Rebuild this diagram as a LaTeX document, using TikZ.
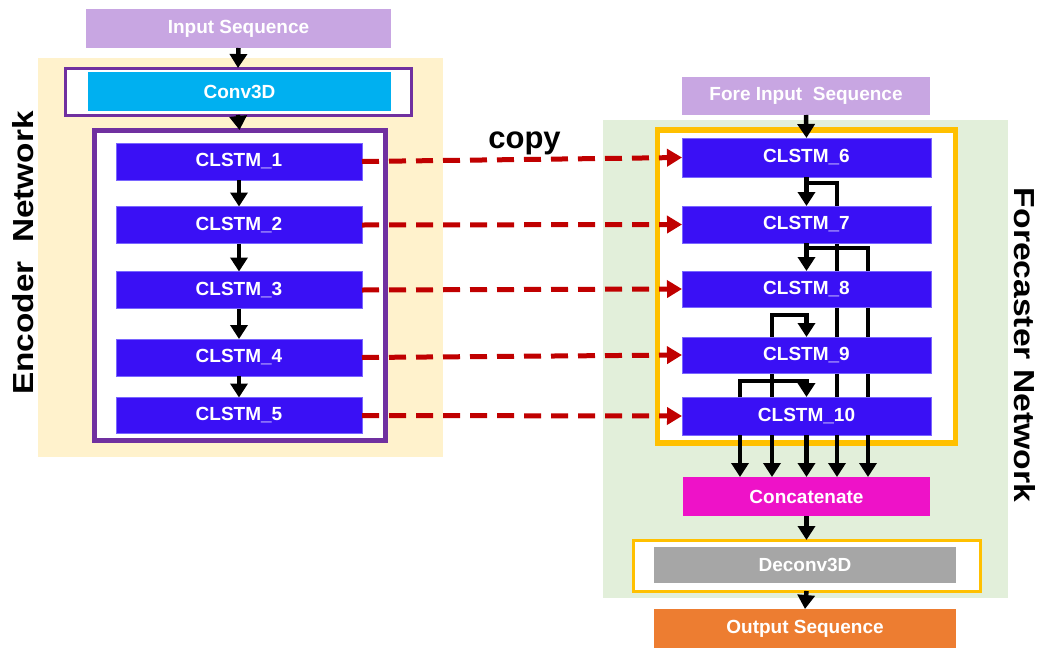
\documentclass[tikz,border=0pt]{standalone}
\usepackage{fontspec}
\setmainfont{Liberation Sans}
\usetikzlibrary{arrows.meta,calc}

\definecolor{encbg}{HTML}{FFF2CC}
\definecolor{forebg}{HTML}{E2EFDA}
\definecolor{lav}{HTML}{C8A6E2}
\definecolor{cyanbox}{HTML}{00B0F0}
\definecolor{cellblue}{HTML}{3A10F5}
\definecolor{celledge}{HTML}{7A66FF}
\definecolor{purp}{HTML}{7030A0}
\definecolor{gold}{HTML}{FFC000}
\definecolor{magbox}{HTML}{EE12C8}
\definecolor{graybox}{HTML}{A6A6A6}
\definecolor{orangebox}{HTML}{ED7D31}
\definecolor{copyred}{HTML}{C00000}

\pgfdeclarelayer{bg}
\pgfdeclarelayer{mid}
\pgfsetlayers{bg,mid,main}

\tikzset{
  blk/.style={inner sep=0pt, outer sep=0pt, text=white,
    font=\fontsize{19}{19}\selectfont\bfseries},
  cell/.style={blk, fill=cellblue, draw=celledge, line width=0.8pt},
  frame/.style={inner sep=0pt, outer sep=0pt, fill=white},
  wire/.style={line width=4.5pt, draw=black},
  flow/.style={wire, -{Triangle[width=17pt,length=14pt]}},
  copyarrow/.style={line width=5pt, draw=copyred, dash pattern=on 17pt off 10pt,
    -{Triangle[width=17pt,length=15pt]}},
  side/.style={inner sep=0pt, font=\fontsize{29}{29}\selectfont\bfseries},
}

\begin{document}
\begin{tikzpicture}[x=1pt,y=-1pt]
\useasboundingbox (0,0) rectangle (1039,648);

% panels and frames
\begin{pgfonlayer}{bg}
  \fill[encbg] (38,58) rectangle (443,457);
  \fill[forebg] (603,120) rectangle (1008,598);
  \node[frame, draw=purp, line width=3pt, minimum width=346pt, minimum height=47pt]
    (convframe) at (238,91.5) {};
  \node[frame, draw=purp, line width=5pt, minimum width=291pt, minimum height=310pt]
    (encframe) at (239.5,285) {};
  \node[frame, draw=gold, line width=5.5pt, minimum width=298pt, minimum height=313pt]
    (foreframe) at (806.5,286.5) {};
  \node[frame, draw=gold, line width=3pt, minimum width=347pt, minimum height=51pt]
    (deconvframe) at (806.5,565.5) {};
\end{pgfonlayer}

% encoder blocks
\node[blk, fill=lav, minimum width=305pt, minimum height=39pt] (inseq) at (238.5,28.5) {Input Sequence};
\node[blk, fill=cyanbox, minimum width=303pt, minimum height=39pt] (conv) at (239.5,91.5) {Conv3D};
\node[cell, minimum width=246pt, minimum height=37pt] (c1) at (239,161.5) {CLSTM\_1};
\node[cell, minimum width=246pt, minimum height=37pt] (c2) at (239,225) {CLSTM\_2};
\node[cell, minimum width=246pt, minimum height=37pt] (c3) at (239,290) {CLSTM\_3};
\node[cell, minimum width=246pt, minimum height=37pt] (c4) at (239,357.5) {CLSTM\_4};
\node[cell, minimum width=246pt, minimum height=36pt] (c5) at (239,415.5) {CLSTM\_5};

% forecaster blocks
\node[blk, fill=lav, minimum width=248pt, minimum height=38pt] (foreinput) at (806,96) {Fore Input\ \ Sequence};
\node[cell, minimum width=249pt, minimum height=39pt] (c6) at (806.5,157.5) {CLSTM\_6};
\node[cell, minimum width=249pt, minimum height=37pt] (c7) at (806.5,224.5) {CLSTM\_7};
\node[cell, minimum width=249pt, minimum height=36pt] (c8) at (806.5,289) {CLSTM\_8};
\node[cell, minimum width=249pt, minimum height=36pt] (c9) at (806.5,355) {CLSTM\_9};
\node[cell, minimum width=249pt, minimum height=38pt] (c10) at (806.5,416) {CLSTM\_10};
\node[blk, fill=magbox, minimum width=247pt, minimum height=39pt] (concat) at (806.5,496.5) {Concatenate};
\node[blk, fill=graybox, minimum width=302pt, minimum height=36pt] (deconv) at (805,565) {Deconv3D};
\node[blk, fill=orangebox, minimum width=302pt, minimum height=39pt] (outseq) at (805,628.5) {Output Sequence};

% side titles
\node[side, rotate=90] (enclabel) at (23,253) {\scalebox{1.15}[1]{Encoder\ \ Network}};
\node[side, rotate=-90] (forelabel) at (1025,345) {\scalebox{1.16}[1]{Forecaster Network}};
\node[inner sep=0pt, anchor=base, font=\fontsize{31}{31}\selectfont\bfseries] (copylabel) at (524.5,148) {copy};

% lanes of the forecaster skip connections
\coordinate (lA) at (740,0);
\coordinate (lB) at (772,0);
\coordinate (lD) at (837,0);
\coordinate (lE) at (868,0);

% skip wires, running behind the cells
\begin{pgfonlayer}{mid}
  \draw[wire] (c7.north -| lD) |- ($(c6.south)+(0,6)$);
  \draw[wire] (c7.south -| lD) -- (c10.north -| lD);
  \draw[wire] ($(c7.south)+(0,5)$) -| (c10.north -| lE);
  \draw[flow] (c10.north -| lB) |- ($(c9.north)+(0,-22)$) -- (c9.north);
  \draw[flow] (c10.north -| lA) |- ($(c10.north)+(0,-16)$) -- (c10.north);
\end{pgfonlayer}

% encoder flow
\draw[flow] (inseq.south) -- (convframe.north);
\draw[flow] (convframe.south) -- (encframe.north);
\draw[flow] (c1) -- (c2);
\draw[flow] (c2) -- (c3);
\draw[flow] (c3) -- (c4);
\draw[flow] (c4) -- (c5);

% forecaster flow
\draw[flow] (foreinput.south) -- (c6.north);
\draw[flow] (c6) -- (c7);
\draw[flow] (c7) -- (c8);
\foreach \lane in {lA,lB,lD,lE}
  \draw[flow] (c10.south -| \lane) -- (concat.north -| \lane);
\draw[flow] (c10.south) -- (concat.north);
\draw[flow] (concat.south) -- (deconvframe.north);
\draw[flow] (deconvframe.south) -- (outseq.north);

% copied states
\draw[copyarrow] (c1.east) -- (c6.west);
\draw[copyarrow] (c2.east) -- (c7.west);
\draw[copyarrow] (c3.east) -- (c8.west);
\draw[copyarrow] (c4.east) -- (c9.west);
\draw[copyarrow] (c5.east) -- (c10.west);
\end{tikzpicture}
\end{document}
